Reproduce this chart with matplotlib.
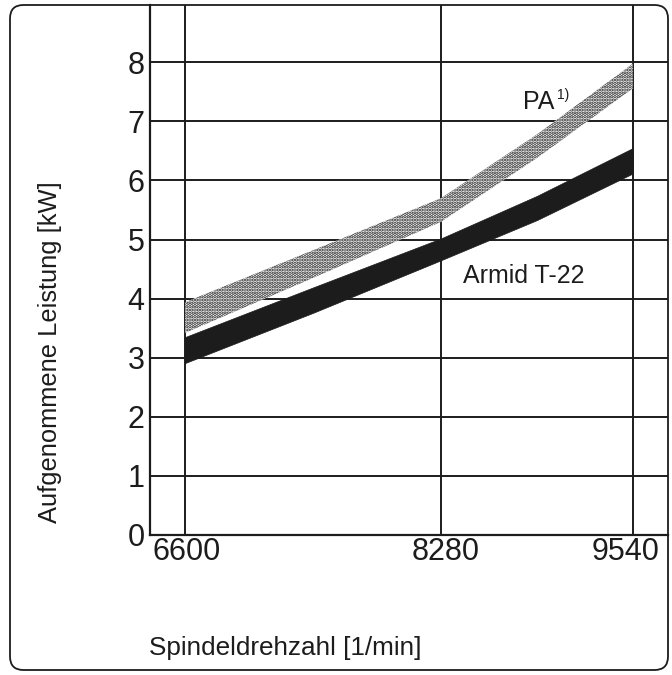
import matplotlib
matplotlib.use('AGG')
import matplotlib.pyplot as plt
import matplotlib.transforms as mtransforms
from matplotlib.patches import FancyBboxPatch

# Spindeldrehzahl [1/min] und Leistungsbaender [kW]
rpm = [6600, 7440, 8280, 8910, 9540]
pa_unten = [3.42, 4.35, 5.30, 6.38, 7.56]
pa_oben = [3.94, 4.82, 5.70, 6.78, 7.98]
armid_unten = [2.91, 3.76, 4.65, 5.33, 6.12]
armid_oben = [3.35, 4.19, 5.02, 5.74, 6.55]

x_ticks = [6600, 8280, 9540]
y_ticks = [0, 1, 2, 3, 4, 5, 6, 7, 8]

plt.rcParams['font.family'] = ['Liberation Sans', 'DejaVu Sans']
plt.rcParams['hatch.linewidth'] = 1.7
schwarz = '#1c1c1c'

fig = plt.figure(figsize=(6.72, 6.75), dpi=100)
W, H = 672, 675
ax = fig.add_axes([150 / W, 140 / H, 518 / W, 530 / H])

ax.set_xlim(6370, 9770)
ax.set_ylim(0, 8.97)

# Baender
ax.fill_between(rpm, pa_unten, pa_oben, facecolor='white', edgecolor='#222222',
                hatch='.....', linewidth=0, zorder=3)
ax.fill_between(rpm, armid_unten, armid_oben, facecolor=schwarz, edgecolor=schwarz,
                linewidth=0.5, zorder=4)

# Gitter
ax.set_xticks(x_ticks)
ax.set_xticklabels([])
ax.set_yticks(y_ticks)
ax.set_yticklabels([str(v) for v in y_ticks])
ax.grid(True, color=schwarz, linewidth=1.4, zorder=1)
ax.set_axisbelow(True)

for s in ['top', 'right']:
    ax.spines[s].set_visible(False)
for s in ['left', 'bottom']:
    ax.spines[s].set_color(schwarz)
    ax.spines[s].set_linewidth(1.6)

ax.tick_params(axis='both', length=0, colors=schwarz)
ax.tick_params(axis='y', labelsize=22, pad=4)

# x-Beschriftung der Ticks (links/mittig/rechts wie im Original)
ausrichtung = ['left', 'center', 'right']
versatz_px = [-33, 5, 27]
basis = mtransforms.blended_transform_factory(ax.transData, ax.transAxes)
for wert, ha, dx in zip(x_ticks, ausrichtung, versatz_px):
    tr = basis + mtransforms.ScaledTranslation(dx / 100, -2 / 100, fig.dpi_scale_trans)
    ax.text(wert, 0, str(wert), transform=tr, ha=ha, va='top',
            fontsize=22, color=schwarz)

# Beschriftungen
ax.text(8818, 7.33, 'PA', fontsize=18, color=schwarz, ha='left', va='center')
ax.text(9040, 7.45, '1)', fontsize=10, color=schwarz, ha='left', va='center')
ax.text(8424, 4.38, 'Armid T-22', fontsize=18, color=schwarz, ha='left', va='center')

fig.text(50 / W, 1 - 352 / H, 'Aufgenommene Leistung [kW]', rotation=90,
         fontsize=18.4, color=schwarz, ha='center', va='center')
fig.text(149 / W, 1 - 648 / H, 'Spindeldrehzahl [1/min]',
         fontsize=18.8, color=schwarz, ha='left', va='center')

# Rahmen
rahmen = FancyBboxPatch((10 / W, 5 / H), 658 / W, 665 / H,
                        boxstyle='round,pad=0,rounding_size=0.02',
                        transform=fig.transFigure, facecolor='none',
                        edgecolor=schwarz, linewidth=1.3, zorder=10)
fig.patches.append(rahmen)

plt.savefig('out.png', dpi=100)
plt.close()
